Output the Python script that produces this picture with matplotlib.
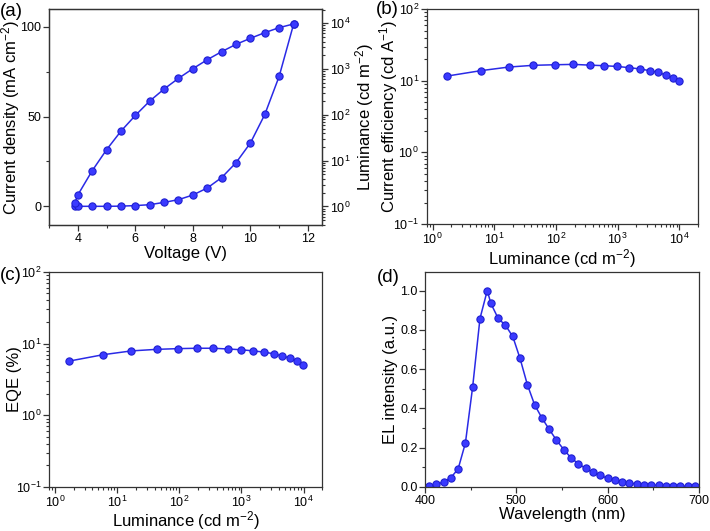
import matplotlib
matplotlib.use('Agg')
import matplotlib.pyplot as plt
from matplotlib.ticker import MultipleLocator, LogLocator, NullFormatter

plt.rcParams['font.family'] = ['Liberation Sans', 'DejaVu Sans']
plt.rcParams['mathtext.fontset'] = 'custom'
plt.rcParams['mathtext.rm'] = 'Liberation Sans'
plt.rcParams['mathtext.it'] = 'Liberation Sans:italic'

# (a) J-V-L
voltage = [3.9, 4.0, 4.5, 5.0, 5.5, 6.0, 6.5, 7.0, 7.5, 8.0, 8.5, 9.0, 9.5, 10.0, 10.5, 11.0, 11.5]
current_density = [0.0, 0.0, 0.0, 0.0, 0.1, 0.4, 0.9, 2.2, 3.7, 6.3, 10.2, 16.0, 24.3, 35.3, 51.2, 72.5, 101.5]
luminance_v = [1.2, 1.77, 6.0, 17.3, 44, 97, 200, 367, 628, 1020, 1600, 2400, 3470, 4700, 6250, 8040, 9670]

# (b), (c) efficiencies vs luminance
luminance = [1.7, 6, 17, 43, 97, 190, 350, 600, 990, 1550, 2300, 3300, 4500, 6000, 7800, 9700]
current_eff = [11.6, 13.8, 15.5, 16.4, 16.7, 16.9, 16.5, 16.2, 15.8, 15.2, 14.6, 13.8, 13.1, 12.0, 11.0, 9.8]
eqe = [5.7, 7.0, 7.9, 8.3, 8.5, 8.6, 8.6, 8.4, 8.2, 7.9, 7.6, 7.2, 6.7, 6.3, 5.7, 5.0]

# (d) EL spectrum
wavelength = [404, 412, 420, 428, 436, 444, 452, 460, 468, 472, 480, 488, 496, 504, 512, 520,
              528, 536, 544, 552, 560, 568, 576, 584, 592, 600, 608, 616, 624, 632, 640, 648,
              656, 664, 672, 680, 688, 696]
el_intensity = [0.003, 0.013, 0.025, 0.047, 0.091, 0.223, 0.51, 0.857, 1.0, 0.934, 0.858, 0.823,
                0.766, 0.654, 0.521, 0.418, 0.351, 0.293, 0.238, 0.19, 0.148, 0.118, 0.094,
                0.074, 0.059, 0.044, 0.034, 0.025, 0.02, 0.015, 0.012, 0.01, 0.008, 0.007,
                0.005, 0.004, 0.003, 0.003]

line_color = '#2a2ae6'
marker_kw = dict(marker='o', markersize=5.2, markerfacecolor='#3a3aff',
                 markeredgecolor='#1f1fd0', markeredgewidth=0.8, color=line_color, linewidth=1.1)

fig = plt.figure(figsize=(7.1, 5.31), dpi=100)
ax_a = fig.add_axes([0.069, 0.576, 0.385, 0.407])
ax_b = fig.add_axes([0.601, 0.578, 0.382, 0.405])
ax_c = fig.add_axes([0.069, 0.083, 0.385, 0.405])
ax_d = fig.add_axes([0.599, 0.083, 0.385, 0.405])

label_fs = 12
tick_fs = 9


def style(ax, xlab_y=-0.095):
    for s in ax.spines.values():
        s.set_linewidth(0.9)
        s.set_color('#333333')
    ax.tick_params(which='both', direction='out', top=False, right=False,
                   labelsize=tick_fs, color='#333333', pad=1.5)
    ax.tick_params(which='major', length=4, width=0.9)
    ax.tick_params(which='minor', length=2.2, width=0.8)
    ax.yaxis.set_label_coords(-0.10, 0.5)
    ax.xaxis.set_label_coords(0.5, xlab_y)


# (a)
ax_a.plot(voltage, current_density, **marker_kw)
ax_a.set_xlim(3, 12.5)
ax_a.set_ylim(-10.5, 110)
ax_a.xaxis.set_major_locator(MultipleLocator(2))
ax_a.xaxis.set_minor_locator(MultipleLocator(1))
ax_a.yaxis.set_major_locator(MultipleLocator(50))
ax_a.yaxis.set_minor_locator(MultipleLocator(25))
ax_a.set_xlabel('Voltage (V)', fontsize=label_fs)
ax_a.set_ylabel('Current density (mA cm$^{-2}$)', fontsize=label_fs)
style(ax_a)
ax_a2 = ax_a.twinx()
ax_a2.plot(voltage, luminance_v, **marker_kw)
ax_a2.set_yscale('log')
ax_a2.set_ylim(0.39, 2.05e4)
ax_a2.yaxis.set_major_locator(LogLocator(base=10, numticks=10))
ax_a2.yaxis.set_minor_locator(LogLocator(base=10, subs=range(2, 10), numticks=10))
ax_a2.yaxis.set_minor_formatter(NullFormatter())
ax_a2.set_ylabel('Luminance (cd m$^{-2}$)', fontsize=label_fs)
ax_a2.yaxis.set_label_coords(1.112, 0.5)
for s in ax_a2.spines.values():
    s.set_linewidth(0.9)
    s.set_color('#333333')
ax_a2.tick_params(which='both', direction='out', labelsize=tick_fs, color='#333333', pad=1.5)
ax_a2.tick_params(which='major', length=4, width=0.9)
ax_a2.tick_params(which='minor', length=2.2, width=0.8)


def log_panel(ax, x, y, ylabel):
    ax.plot(x, y, **marker_kw)
    ax.set_xscale('log')
    ax.set_yscale('log')
    ax.set_xlim(0.8, 2e4)
    ax.set_ylim(0.1, 100)
    for axis in (ax.xaxis, ax.yaxis):
        axis.set_major_locator(LogLocator(base=10, numticks=10))
        axis.set_minor_locator(LogLocator(base=10, subs=range(2, 10), numticks=10))
        axis.set_minor_formatter(NullFormatter())
    ax.set_xlabel('Luminance (cd m$^{-2}$)', fontsize=label_fs)
    ax.set_ylabel(ylabel, fontsize=label_fs)
    style(ax, xlab_y=-0.105)


log_panel(ax_b, luminance, current_eff, 'Current efficiency (cd A$^{-1}$)')
log_panel(ax_c, luminance, eqe, 'EQE (%)')

# (d)
ax_d.plot(wavelength, el_intensity, **marker_kw)
ax_d.set_xlim(400, 700)
ax_d.set_ylim(0, 1.095)
ax_d.xaxis.set_major_locator(MultipleLocator(100))
ax_d.xaxis.set_minor_locator(MultipleLocator(50))
ax_d.yaxis.set_major_locator(MultipleLocator(0.2))
ax_d.yaxis.set_minor_locator(MultipleLocator(0.1))
ax_d.yaxis.set_major_formatter(plt.FormatStrFormatter('%.1f'))
ax_d.set_xlabel('Wavelength (nm)', fontsize=label_fs)
ax_d.set_ylabel('EL intensity (a.u.)', fontsize=label_fs)
style(ax_d)

# panel labels
fig.text(0.0, 0.979, '(a)', fontsize=13.5, va='center', ha='left')
fig.text(0.529, 0.982, '(b)', fontsize=13.5, va='center', ha='left')
fig.text(0.0, 0.482, '(c)', fontsize=13.5, va='center', ha='left')
fig.text(0.531, 0.478, '(d)', fontsize=13.5, va='center', ha='left')

fig.savefig('out.png', dpi=100)
